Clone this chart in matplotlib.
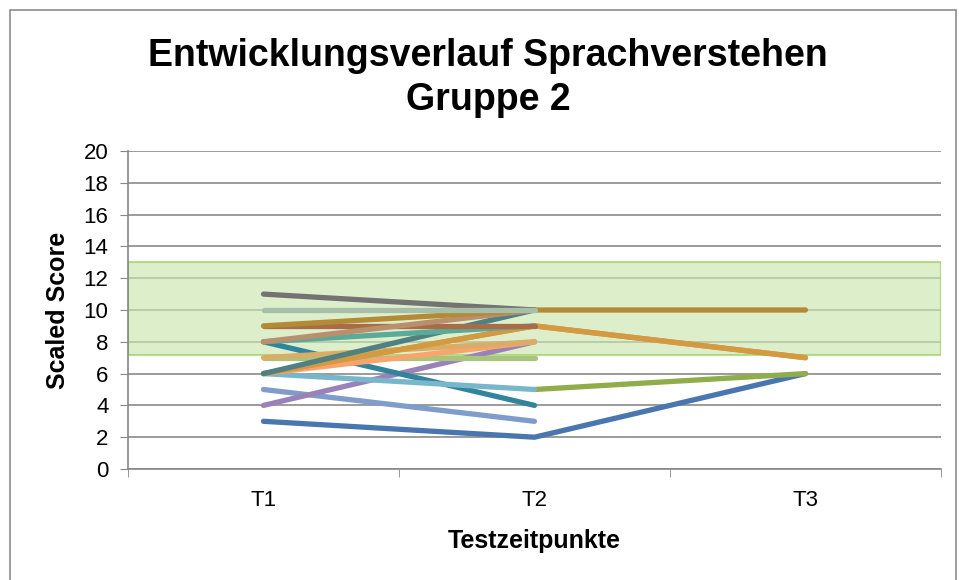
import numpy as np
import matplotlib
matplotlib.use("Agg")
import matplotlib.pyplot as plt
from matplotlib.patches import Rectangle

plt.rcParams['font.family'] = ['Liberation Sans', 'DejaVu Sans']

nan = np.nan
categories = ['T1', 'T2', 'T3']

# one list per child, values at T1, T2, T3 (drawing order = legend order)
s_blue = [3, 2, 6]
s_steel = [5, 3, nan]
s_green = [nan, 5, 6]
s_purple = [4, 8, nan]
s_teal = [8, 4, nan]
s_lightblue = [6, 5, nan]
s_lightgreen = [7, 7, nan]
s_salmon = [6, 8, nan]
s_tan = [7, 8, nan]
s_orange = [6, 9, 7]
s_goldenrod = [6, 9, 7]
s_slate = [6, 10, nan]
s_seagreen = [8, 9, nan]
s_rust = [9, 9, nan]
s_tanbrown = [8, 10, nan]
s_gold = [9, 10, 10]
s_darkgray = [11, 10, nan]
s_sage = [10, 10, nan]

series = [
    (s_blue, '#4a76b0'),
    (s_steel, '#7f9ccb'),
    (s_green, '#8fad4b'),
    (s_purple, '#9a82b9'),
    (s_teal, '#31849b'),
    (s_lightblue, '#78b6cc'),
    (s_lightgreen, '#a9c47c'),
    (s_salmon, '#f9a46c'),
    (s_tan, '#d9ad68'),
    (s_orange, '#ec8a3c'),
    (s_goldenrod, '#d29b42'),
    (s_slate, '#4f8082'),
    (s_seagreen, '#5aaa99'),
    (s_rust, '#a86d48'),
    (s_tanbrown, '#b98f6e'),
    (s_gold, '#b38a35'),
    (s_darkgray, '#737373'),
    (s_sage, '#a7bfa9'),
]

# normal range band (scaled score)
band_low = 7.2
band_high = 13

fig = plt.figure(figsize=(9.59, 5.80), dpi=100)
ax = fig.add_axes([128 / 959, 1 - 469 / 580, 813 / 959, 318 / 580])

# outer chart frame
fig.patches.append(Rectangle((10 / 959, -0.05), 946 / 959, 1.05 - 10 / 580,
                             transform=fig.transFigure, fill=False,
                             edgecolor='#8c8c8c', linewidth=1.2))

x = np.arange(len(categories))
ax.axhspan(band_low, band_high, facecolor='#cbe6ae', alpha=0.65,
           edgecolor='#92cf50', linewidth=1.5, zorder=1)

for vals, col in series:
    ax.plot(x, vals, color=col, linewidth=3.8, solid_capstyle='round', zorder=3)

ax.set_xlim(-0.5, 2.5)
ax.set_ylim(0, 20)
ax.set_yticks(range(0, 21, 2))
ax.set_xticks(x)
ax.set_xticklabels(categories)
ax.set_xticks([-0.5, 0.5, 1.5, 2.5], minor=True)
ax.tick_params(axis='x', which='major', length=0, pad=15, labelsize=16)
ax.tick_params(axis='x', which='minor', length=6, color='#888888')
ax.tick_params(axis='y', length=6, color='#888888', labelsize=16, pad=8)
ax.yaxis.grid(True, color='#8a8a8a', linewidth=1.2, zorder=0)
ax.set_axisbelow(True)
for side in ['top', 'right']:
    ax.spines[side].set_visible(False)
for side in ['left', 'bottom']:
    ax.spines[side].set_color('#888888')
    ax.spines[side].set_linewidth(1.2)

ax.set_xlabel('Testzeitpunkte', fontsize=18, fontweight='bold', labelpad=13)
ax.set_ylabel('Scaled Score', fontsize=18, fontweight='bold', labelpad=10)
fig.text(488 / 959, 1 - 78 / 580, 'Entwicklungsverlauf Sprachverstehen\nGruppe 2',
         ha='center', va='center', fontsize=27, fontweight='bold', linespacing=1.3)

fig.savefig('out.png', dpi=100)
